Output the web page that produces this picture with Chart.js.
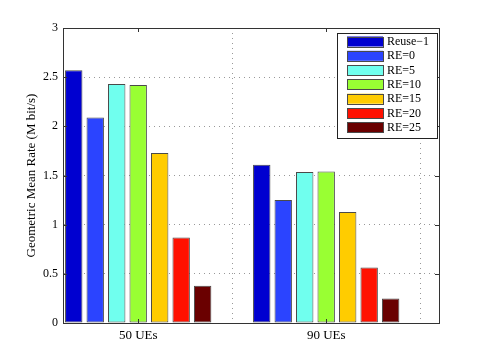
<!DOCTYPE html>
<html><head><meta charset="utf-8">
<script src="https://cdn.jsdelivr.net/npm/chart.js@4"></script>
<style>html,body{margin:0;padding:0;background:#fff}#wrap{width:485px;height:364px}</style>
</head><body><div id="wrap"><canvas id="c" width="485" height="364"></canvas></div>
<script>
const categories = ['50 UEs', '90 UEs'];
const seriesNames = ['Reuse\u22121', 'RE=0', 'RE=5', 'RE=10', 'RE=15', 'RE=20', 'RE=25'];
const reuse1 = [2.57, 1.61];
const re0 = [2.09, 1.25];
const re5 = [2.43, 1.535];
const re10 = [2.42, 1.54];
const re15 = [1.73, 1.13];
const re20 = [0.87, 0.565];
const re25 = [0.38, 0.25];
const yTicks = [0, 0.5, 1, 1.5, 2, 2.5, 3];

const seriesValues = [reuse1, re0, re5, re10, re15, re20, re25];
const colors = ['#0000d0', '#2b44ff', '#70ffee', '#99ff33', '#ffcc00', '#ff1100', '#6a0000'];
const catPos = categories.map((c, i) => i + 1);

const datasets = seriesNames.map((n, k) => ({
  label: n,
  data: seriesValues[k].map((v, i) => ({x: catPos[i], y: v})),
  backgroundColor: colors[k],
  borderColor: '#4a4a4a',
  borderWidth: 1,
  borderSkipped: false,
  categoryPercentage: 0.8,
  barPercentage: 0.81
}));

const FONT = '"Liberation Serif", "Times New Roman", serif';

const boxPlugin = {
  id: 'box',
  afterDraw(chart) {
    const ctx = chart.ctx, a = chart.chartArea;
    const xs = chart.scales.x, ys = chart.scales.y;
    ctx.save();
    ctx.strokeStyle = '#333';
    ctx.lineWidth = 1;
    ctx.strokeRect(Math.round(a.left) + 0.5, Math.round(a.top) + 0.5, Math.round(a.right - a.left), Math.round(a.bottom - a.top));
    ctx.beginPath();
    yTicks.forEach(v => {
      const y = Math.round(ys.getPixelForValue(v)) + 0.5;
      ctx.moveTo(a.left, y); ctx.lineTo(a.left + 4, y);
      ctx.moveTo(a.right, y); ctx.lineTo(a.right - 4, y);
    });
    catPos.forEach(p => {
      const x = Math.round(xs.getPixelForValue(p)) + 0.5;
      ctx.moveTo(x, a.bottom); ctx.lineTo(x, a.bottom - 4);
      ctx.moveTo(x, a.top); ctx.lineTo(x, a.top + 4);
    });
    ctx.stroke();
    const lx = 337.5, ly = 33.5, lw = 100, lh = 105;
    ctx.fillStyle = '#fff';
    ctx.fillRect(lx, ly, lw, lh);
    ctx.strokeStyle = '#222';
    ctx.strokeRect(lx, ly, lw, lh);
    ctx.font = '12px ' + FONT;
    ctx.textBaseline = 'middle';
    ctx.textAlign = 'left';
    chart.data.datasets.forEach((ds, i) => {
      const cy = 41.5 + i * 14.3;
      ctx.fillStyle = ds.backgroundColor;
      ctx.fillRect(347, cy - 5, 36, 10);
      ctx.strokeStyle = '#4a4a4a';
      ctx.strokeRect(347.5, Math.round(cy - 5) + 0.5, 36, 10);
      ctx.fillStyle = '#000';
      ctx.fillText(ds.label, 387, cy + 0.5);
    });
    ctx.restore();
  }
};

new Chart(document.getElementById('c'), {
  type: 'bar',
  data: {datasets},
  plugins: [boxPlugin],
  options: {
    responsive: false,
    animation: false,
    layout: {padding: {left: 0, right: 46, top: 28, bottom: 0}},
    plugins: {legend: {display: false}, tooltip: {enabled: false}},
    scales: {
      x: {
        type: 'linear',
        min: 0.6, max: 2.6,
        offset: false,
        afterBuildTicks(s) { s.ticks = catPos.map(v => ({value: v})); },
        afterFit(s) { s.height = 41; },
        ticks: {
          callback: (v) => categories[catPos.indexOf(v)] || '',
          font: {family: FONT, size: 13}, color: '#000', padding: 5, maxRotation: 0
        },
        grid: {drawTicks: false, color: '#999', lineWidth: 1},
        border: {display: true, color: '#333', dash: [1, 4]}
      },
      y: {
        min: 0, max: 3,
        afterBuildTicks(s) { s.ticks = yTicks.map(v => ({value: v})); },
        afterFit(s) { s.width = 63; },
        ticks: {font: {family: FONT, size: 12}, color: '#000', padding: 5, callback: v => String(v)},
        title: {display: true, text: 'Geometric Mean Rate (M bit/s)', font: {family: FONT, size: 13}, color: '#000', padding: {top: 24, bottom: 0}},
        grid: {drawTicks: false, color: '#999', lineWidth: 1},
        border: {display: true, color: '#333', dash: [1, 4]}
      }
    }
  }
});
</script></body></html>
